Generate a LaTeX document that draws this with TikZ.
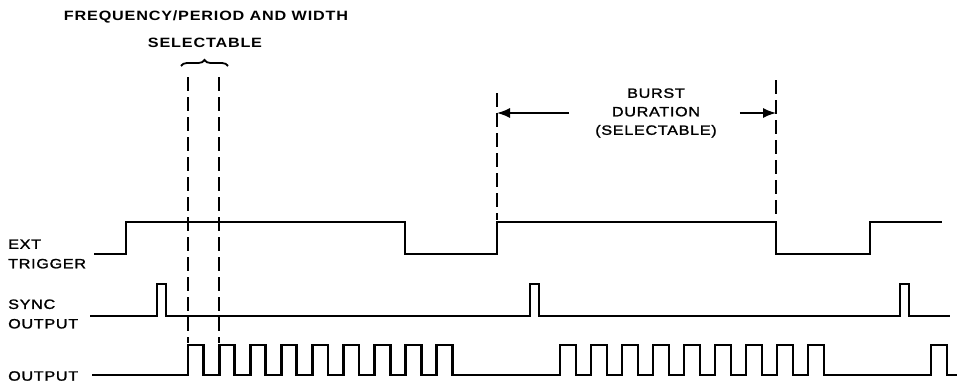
\documentclass[tikz,border=0pt]{standalone}
\usepackage{fontspec}
\usepackage{tikz}
\usetikzlibrary{arrows.meta}
\usetikzlibrary{decorations.pathreplacing}
\newfontfamily\labelfont[FakeStretch=1.2, LetterSpace=5, FakeBold=1.5]{Liberation Sans}
\newfontfamily\headfont[FakeStretch=1.2, LetterSpace=6]{Liberation Sans}
\tikzset{
    sig_label/.style = {font=\labelfont\fontsize{13.5}{19.5}\selectfont, align=left, inner sep=0pt, anchor=west},
    burst_label/.style = {font=\labelfont\fontsize{13.5}{18.5}\selectfont, align=center, inner sep=0pt},
    head_label/.style = {font=\headfont\bfseries\fontsize{13.5}{15}\selectfont, inner sep=0pt},
    wave/.style = {line width=2.8pt, line join=miter},
    guide/.style = {line width=1.5pt, dash pattern=on 14pt off 6pt},
    span/.style = {-{Latex[length=13pt, width=10pt]}, line width=1.5pt},
    curly/.style = {decorate, decoration={brace, amplitude=6pt}, line width=1.8pt}
}
\begin{document}
\begin{tikzpicture}[x=1pt, y=-1pt]
    \useasboundingbox (0,0) rectangle (959,383);
    % texts
    \node [head_label] (freq) at (206,17) {FREQUENCY/PERIOD AND WIDTH};
    \node [head_label] (sel) at (205,43) {SELECTABLE};
    \node [burst_label] (burst) at (656,113) {BURST\\DURATION\\(SELECTABLE)};
    \node [sig_label] (ext) at (8,254) {EXT\\TRIGGER};
    \node [sig_label] (sync) at (8,314) {SYNC\\OUTPUT};
    \node [sig_label] (out) at (8,376) {OUTPUT};
    % ext trigger
    \draw [wave] (94,254) -- (126,254) -- (126,222) -- (405,222) -- (405,254)
        -- (497,254) -- (497,222) -- (776,222) -- (776,254)
        -- (870,254) -- (870,222) -- (942,222);
    % sync output
    \draw [wave] (90,316) \foreach \s in {157,530,900} {
            -- (\s,316) -- (\s,284) -- ({\s+9},284) -- ({\s+9},316)
        } -- (950,316);
    % output
    \draw [wave] (92,375) \foreach \k in {0,...,8} {
            -- ({188+31.1*\k},375) -- ({188+31.1*\k},345)
            -- ({203.5+31.1*\k},345) -- ({203.5+31.1*\k},375)
        } \foreach \k in {0,...,8} {
            -- ({560+31*\k},375) -- ({560+31*\k},345)
            -- ({576+31*\k},345) -- ({576+31*\k},375)
        } -- (931,375) -- (931,345) -- (947,345) -- (947,375) -- (957,375);
    % period markers
    \coordinate (p1top) at (188,77);
    \coordinate (p1bot) at (188,343);
    \coordinate (p2top) at (219,77);
    \coordinate (p2bot) at (219,343);
    \draw [guide] (p1top) -- (p1bot);
    \draw [guide] (p2top) -- (p2bot);
    \coordinate (brl) at (181,66);
    \coordinate (brr) at (228,66);
    \draw [curly] (brl) -- (brr);
    % burst markers
    \coordinate (b1top) at (497,93);
    \coordinate (b1bot) at (497,220);
    \coordinate (b2top) at (776,80);
    \coordinate (b2bot) at (776,220);
    \draw [guide] (b1top) -- (b1bot);
    \draw [guide] (b2top) -- (b2bot);
    \coordinate (b1mid) at (497,113);
    \coordinate (b2mid) at (776,113);
    \draw [span] ([xshift=-26pt]burst.west) -- (b1mid);
    \draw [span] ([xshift=23pt]burst.east) -- (b2mid);
\end{tikzpicture}
\end{document}
